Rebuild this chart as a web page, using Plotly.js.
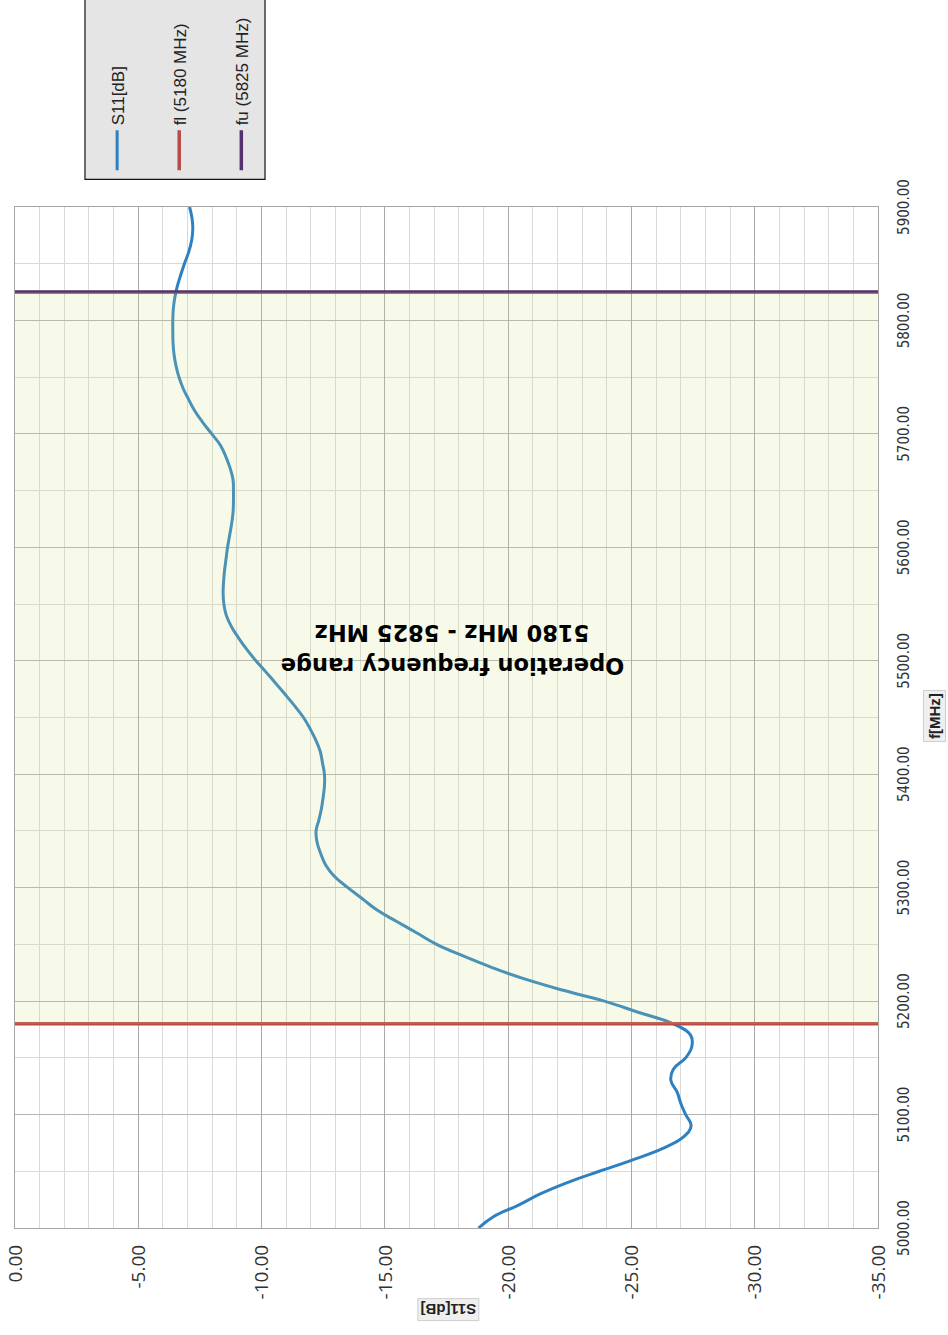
<!DOCTYPE html>
<html><head><meta charset="utf-8">
<script src="https://cdn.plot.ly/plotly-3.0.1.min.js"></script>
<style>
html,body{margin:0;padding:0;width:948px;height:1335px;overflow:hidden;background:#fff;}
#chart{position:absolute;left:0;top:0;width:1335px;height:948px;transform-origin:0 0;transform:translate(0px,1335px) rotate(-90deg);}
</style></head><body><div id="chart"></div>
<script>
const freq = [5000,5010,5020,5030,5040,5050,5060,5070,5080,5090,5100,5110,5120,5130,5140,5150,5160,5170,5180,5190,
  5200,5210,5220,5230,5240,5250,5260,5270,5280,5290,5300,5310,5320,5330,5340,5350,5360,5370,5380,5390,
  5400,5410,5420,5430,5440,5450,5460,5470,5480,5490,5500,5510,5520,5530,5540,5550,5560,5570,5580,5590,
  5600,5610,5620,5630,5640,5650,5660,5670,5680,5690,5700,5710,5720,5730,5740,5750,5760,5770,5780,5790,
  5800,5810,5820,5830,5840,5850,5860,5870,5880,5890,5900];
const s11 = [-18.8,-19.4,-20.4,-21.3,-22.4,-23.7,-25.05,-26.25,-27.1,-27.42,-27.2,-27.0,-26.85,-26.6,-26.7,-27.2,-27.45,-27.4,-26.7,-25.3,
  -23.9,-22.15,-20.6,-19.3,-18.15,-17.1,-16.3,-15.5,-14.7,-14.1,-13.5,-12.95,-12.6,-12.4,-12.25,-12.21,-12.33,-12.43,-12.5,-12.55,
  -12.55,-12.47,-12.38,-12.2,-11.97,-11.7,-11.35,-10.97,-10.58,-10.18,-9.77,-9.4,-9.07,-8.78,-8.57,-8.47,-8.44,-8.46,-8.5,-8.56,
  -8.62,-8.7,-8.78,-8.84,-8.86,-8.86,-8.84,-8.72,-8.55,-8.33,-7.98,-7.62,-7.3,-7.05,-6.82,-6.65,-6.53,-6.45,-6.41,-6.4,
  -6.4,-6.42,-6.48,-6.58,-6.72,-6.87,-7.04,-7.16,-7.21,-7.18,-7.08];
const flFreq = [5180, 5180];
const fuFreq = [5825, 5825];
const dbSpan = [0, -35];
const freqRange = [5000, 5900];
const xTickVals = [5000,5100,5200,5300,5400,5500,5600,5700,5800,5900];
const xTickText = ['5000.00','5100.00','5200.00','5300.00','5400.00','5500.00','5600.00','5700.00','5800.00','5900.00'];
const yTickVals = [0,-5,-10,-15,-20,-25,-30,-35];
const yTickText = ['0.00','-5.00','-10.00','-15.00','-20.00','-25.00','-30.00','-35.00'];
const seriesNames = ['S11[dB]', 'fl (5180 MHz)', 'fu (5825 MHz)'];
const rangeLine1 = 'Operation frequency range';
const rangeLine2 = '5180 MHz - 5825 MHz';

const traces = [
  {x: freq, y: s11, type: 'scatter', mode: 'lines', name: seriesNames[0], legendgroup: 'a',
   line: {color: '#2d80c2', width: 3, shape: 'spline', smoothing: 1.2}},
  {x: flFreq, y: dbSpan, type: 'scatter', mode: 'lines', name: seriesNames[1], legendgroup: 'b',
   line: {color: '#b94a48', width: 3.5}},
  {x: fuFreq, y: dbSpan, type: 'scatter', mode: 'lines', name: seriesNames[2], legendgroup: 'c',
   line: {color: '#55306e', width: 3.5}}
];

const layout = {
  width: 1335, height: 948,
  margin: {l: 107, r: 205, t: 15, b: 70},
  paper_bgcolor: '#ffffff', plot_bgcolor: '#ffffff',
  showlegend: true,
  legend: {x: 1.031, xanchor: 'left', y: 0.902, yanchor: 'top', traceorder: 'grouped', tracegroupgap: 37,
    bgcolor: 'rgba(0,0,0,0)', borderwidth: 0, itemwidth: 40,
    font: {family: 'Liberation Sans, Arial, sans-serif', size: 17, color: '#222'}},
  xaxis: {range: freqRange, tickmode: 'array', tickvals: xTickVals, ticktext: xTickText,
    showgrid: true, gridcolor: '#b3b3b3', gridwidth: 1, zeroline: false,
    minor: {tickmode: 'linear', tick0: 5000, dtick: 50, showgrid: true, gridcolor: '#d9d9d9', gridwidth: 1},
    showline: true, linecolor: '#a6a6a6', linewidth: 1, mirror: true, ticks: '',
    ticklabelstandoff: 12,
    tickfont: {family: 'Liberation Sans Narrow, DejaVu Sans Condensed, Liberation Sans, sans-serif', size: 15, color: '#333'}},
  yaxis: {range: [-35, 0], tickmode: 'array', tickvals: yTickVals, ticktext: yTickText,
    showgrid: true, gridcolor: '#a9a9a9', gridwidth: 1, zeroline: false,
    minor: {tickmode: 'linear', tick0: -35, dtick: 1, showgrid: true, gridcolor: '#d9d9d9', gridwidth: 1},
    showline: true, linecolor: '#a6a6a6', linewidth: 1, mirror: true, ticks: '',
    ticklabelstandoff: 12,
    tickfont: {family: 'Open Sans, DejaVu Sans, sans-serif', size: 19, color: '#333'}},
  shapes: [
    {type: 'rect', xref: 'x', yref: 'paper', x0: flFreq[0], x1: fuFreq[0], y0: 0, y1: 1,
     fillcolor: 'rgba(210,228,130,0.18)', line: {width: 0}, layer: 'above'},
    {type: 'rect', xref: 'paper', yref: 'paper', x0: 1.027, x1: 1.21, y0: 0.7103, y1: 0.9189,
     fillcolor: '#e5e5e5', line: {color: '#111', width: 1.2}, layer: 'below'}
  ],
  annotations: [
    {x: 5495.7, y: -17.72, xref: 'x', yref: 'y', text: rangeLine1, showarrow: false, textangle: -90,
     xanchor: 'center', yanchor: 'middle',
     font: {family: 'DejaVu Sans, Verdana, sans-serif', size: 22.5, color: '#000', weight: 'bold'}},
    {x: 5524.8, y: -17.72, xref: 'x', yref: 'y', text: rangeLine2, showarrow: false, textangle: -90,
     xanchor: 'center', yanchor: 'middle',
     font: {family: 'DejaVu Sans, Verdana, sans-serif', size: 22.5, color: '#000', weight: 'bold'}},
    {x: -0.0802, y: 0.498, xref: 'paper', yref: 'paper', text: '<b>S11[dB]</b>', showarrow: false, textangle: -90,
     xanchor: 'center', yanchor: 'middle',
     bgcolor: '#efefef', bordercolor: '#cfcfcf', borderwidth: 1, borderpad: 2,
     font: {family: 'Liberation Sans, Arial, sans-serif', size: 15, color: '#222'}},
    {x: 0.5015, y: -0.066, xref: 'paper', yref: 'paper', text: '<b>f[MHz]</b>', showarrow: false,
     xanchor: 'center', yanchor: 'middle',
     bgcolor: '#efefef', bordercolor: '#cfcfcf', borderwidth: 1, borderpad: 2,
     font: {family: 'Liberation Sans, Arial, sans-serif', size: 15, color: '#222'}}
  ]
};

Plotly.newPlot('chart', traces, layout, {displayModeBar: false, staticPlot: true});
</script></body></html>
